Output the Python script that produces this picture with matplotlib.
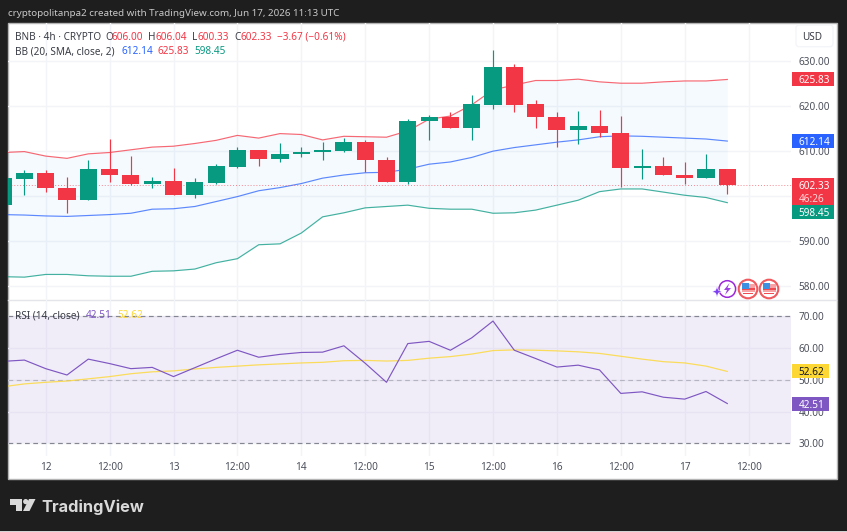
import matplotlib
matplotlib.use("Agg")
import matplotlib.pyplot as plt
from matplotlib.patches import Rectangle, Circle, Polygon, FancyBboxPatch

# 4h candles; the session index is counted from the first candle of the 12th
candle_idx = list(range(-2, 33))
opens = [597.9, 603.8, 605.1, 601.6, 599.1, 606.0, 604.6, 602.7, 603.3, 600.2,
         602.8, 606.4, 610.1, 608.2, 609.3, 609.7, 610.0, 612.0, 607.9, 603.0,
         616.5, 617.5, 615.1, 620.2, 628.6, 620.3, 617.5, 614.7, 615.5, 614.0,
         606.1, 606.6, 604.5, 604.0, 606.0]
highs = [604.4, 605.7, 605.7, 604.2, 607.9, 612.7, 608.8, 604.1, 606.1, 603.9,
         607.0, 610.9, 610.1, 611.8, 610.9, 611.9, 612.9, 612.4, 608.5, 617.0,
         618.0, 618.5, 622.3, 632.3, 629.2, 621.3, 618.7, 618.9, 619.0, 617.7,
         610.3, 608.6, 607.6, 609.3, 606.04]
lows = [597.6, 600.2, 600.9, 596.1, 599.1, 603.0, 602.3, 601.6, 600.2, 599.4,
        602.6, 606.1, 606.6, 607.6, 608.7, 607.9, 609.8, 605.2, 603.0, 602.6,
        612.4, 615.1, 612.4, 619.2, 618.6, 615.0, 610.9, 611.6, 613.1, 602.0,
        603.8, 604.5, 602.7, 604.0, 600.33]
closes = [603.9, 605.1, 601.6, 599.1, 606.0, 604.6, 602.7, 603.3, 600.2, 603.0,
          606.5, 610.1, 608.2, 609.3, 609.7, 610.1, 612.0, 607.9, 603.0, 616.6,
          617.5, 615.1, 620.3, 628.6, 620.2, 617.4, 614.7, 615.5, 613.9, 606.1,
          606.6, 604.5, 604.0, 606.0, 602.33]

bb_upper = [609.6, 609.8, 608.8, 608.3, 609.3, 609.6, 610.2, 610.8, 611.0, 611.6,
            612.3, 613.4, 612.8, 613.8, 613.6, 612.4, 613.2, 613.1, 613.0, 614.4,
            617.0, 617.7, 620.2, 623.5, 624.6, 625.6, 625.6, 625.9, 625.3, 625.0,
            625.0, 625.3, 625.5, 625.5, 625.83]
bb_basis = [595.8, 595.7, 595.5, 595.4, 595.6, 595.8, 596.1, 597.0, 597.1, 597.6,
            598.7, 599.8, 601.1, 601.8, 602.7, 603.9, 604.6, 605.1, 605.2, 605.9,
            607.0, 607.5, 608.5, 609.9, 610.7, 611.3, 611.9, 612.4, 613.1, 613.3,
            613.2, 613.0, 612.8, 612.6, 612.14]
bb_lower = [582.0, 581.9, 582.5, 582.5, 582.2, 582.1, 582.1, 583.2, 583.3, 583.7,
            585.1, 586.0, 589.1, 589.3, 591.7, 595.3, 596.2, 597.3, 597.6, 597.9,
            597.2, 597.0, 597.0, 596.1, 596.2, 596.8, 597.9, 599.0, 600.9, 601.5,
            601.5, 600.8, 600.1, 599.6, 598.45]

rsi = [55.8, 56.2, 53.5, 51.5, 56.5, 55.1, 53.5, 53.9, 51.0, 53.8,
       56.6, 59.3, 57.1, 58.0, 58.6, 58.7, 60.7, 55.2, 49.2, 61.4,
       62.1, 59.3, 63.2, 68.5, 59.3, 56.7, 54.0, 54.6, 53.1, 45.7,
       46.2, 44.5, 43.9, 46.3, 42.51]
rsi_ma = [47.8, 48.7, 49.2, 49.6, 50.3, 51.0, 51.9, 52.5, 52.8, 53.4,
          53.9, 54.3, 54.7, 55.0, 55.3, 55.5, 56.0, 56.1, 55.9, 56.1,
          56.8, 57.3, 58.1, 59.2, 59.4, 59.3, 59.1, 58.8, 58.3, 57.4,
          56.5, 55.7, 55.3, 54.3, 52.62]

time_ticks = [0, 3, 6, 9, 12, 15, 18, 21, 24, 27, 30, 33]
time_labels = ["12", "12:00", "13", "12:00", "14", "12:00", "15", "12:00",
               "16", "12:00", "17", "12:00"]
price_ticks = [580, 590, 600, 610, 620, 630]
price_tick_labels = ["580.00", "590.00", "", "610.00", "620.00", "630.00"]
rsi_ticks = [30, 40, 50, 60, 70]
rsi_tick_labels = ["30.00", "40.00", "50.00", "60.00", "70.00"]

last_price = 602.33
countdown = "46:26"

W, H = 847, 532
GREEN, RED, BLUE = "#089981", "#f23645", "#2962ff"
PURPLE, YELLOW = "#7e57c2", "#fdd835"
DARK, AXIS_TEXT, LEGEND_TEXT = "#1e1e1e", "#4c505b", "#3a3d46"
GRID = "#f3f4f8"
FONT = "Noto Sans"

plt.rcParams["font.family"] = [FONT, "DejaVu Sans"]
fig = plt.figure(figsize=(W / 100, H / 100), dpi=100, facecolor=DARK)


def pane(x0, y0, x1, y1, z):
    """Axes placed by pixel edges measured from the top-left corner."""
    ax = fig.add_axes([x0 / W, 1 - y1 / H, (x1 - x0) / W, (y1 - y0) / H], zorder=z)
    return ax


# Backdrop: dark frame with the white chart card
back = pane(0, 0, W, H, 0)
back.set_xlim(0, W)
back.set_ylim(H, 0)
back.axis("off")
back.add_patch(Rectangle((8, 22.7), 828.7, 456.6, fc="white", ec="#b4b4b4", lw=1))
back.add_patch(Rectangle((0, 531), W, 1, fc="#d4d4d4", ec="none"))
back.plot([8, 836], [300, 300], color="#e3e5ea", lw=1)

XLIM = (-1.77, 34.99)

# Price pane
ax = pane(8, 23, 791, 300, 1)
ax.patch.set_alpha(0)
ax.set_xlim(*XLIM)
ax.set_ylim(576.82, 638.38)
ax.fill_between(candle_idx, bb_lower, bb_upper, color="#2196f3", alpha=0.045, lw=0, zorder=1)
ax.plot(candle_idx, bb_upper, color=RED, lw=0.85, alpha=0.75, zorder=2)
ax.plot(candle_idx, bb_basis, color=BLUE, lw=0.85, alpha=0.75, zorder=2)
ax.plot(candle_idx, bb_lower, color=GREEN, lw=0.85, alpha=0.75, zorder=2)
ax.axhline(last_price, color=RED, lw=0.7, ls=(0, (1, 2)), alpha=0.6, zorder=2)
for i, o, h, l, c in zip(candle_idx, opens, highs, lows, closes):
    col = GREEN if c >= o else RED
    ax.vlines(i, l, h, color=col, lw=0.85, zorder=3)
    ax.bar(i, abs(c - o), bottom=min(o, c), width=0.8, color=col, lw=0, zorder=4)
ax.set_xticks(time_ticks)
ax.tick_params(axis="x", length=0, labelbottom=False)
ax.set_yticks(price_ticks, price_tick_labels)
ax.yaxis.tick_right()
ax.tick_params(axis="y", length=0, pad=5.5, labelsize=7.2, labelcolor=AXIS_TEXT)
ax.grid(True, color=GRID, lw=1)
ax.set_axisbelow(True)
for s in ax.spines.values():
    s.set_visible(False)

# RSI pane
ar = pane(8, 300, 791, 456, 1)
ar.patch.set_alpha(0)
ar.set_xlim(*XLIM)
ar.set_ylim(25.98, 75.13)
ar.axhspan(30, 70, color=PURPLE, alpha=0.1, lw=0, zorder=1)
for level, a in ((70, 0.9), (50, 0.45), (30, 0.9)):
    ar.axhline(level, color="#787b86", lw=0.85, ls=(0, (4, 3)), alpha=a, zorder=2)
ar.plot(candle_idx, rsi_ma, color=YELLOW, lw=0.9, alpha=0.8, zorder=3)
ar.plot(candle_idx, rsi, color=PURPLE, lw=0.85, zorder=4)
ar.set_xticks(time_ticks, time_labels)
ar.set_yticks(rsi_ticks, rsi_tick_labels)
ar.yaxis.tick_right()
ar.tick_params(axis="y", length=0, pad=5.5, labelsize=7.2, labelcolor=AXIS_TEXT)
ar.tick_params(axis="x", length=0, pad=4.6, labelsize=7.2, labelcolor=AXIS_TEXT)
ar.get_xticklabels()[6].set_fontweight("bold")
ar.grid(True, color=GRID, lw=1)
ar.set_axisbelow(True)
for s in ar.spines.values():
    s.set_visible(False)

# Top layer for badges, legends, icons and the logo, addressed in pixels
top = pane(0, 0, W, H, 5)
top.set_xlim(0, W)
top.set_ylim(H, 0)
top.axis("off")
top.patch.set_alpha(0)


def py(axes, value):
    return H - axes.transData.transform((0, value))[1]


def badge(axes, value, text, fc, tc="white", right=834.3, shift=0.0, tx=798.5):
    y = py(axes, value) + shift
    top.add_patch(Rectangle((792.3, y - 7), right - 792.3, 14, fc=fc, ec="none"))
    top.text(tx, y, text, color=tc, fontsize=7.2, va="center_baseline", ha="left")


badge(ax, bb_upper[-1], f"{bb_upper[-1]:.2f}", RED)
badge(ax, bb_basis[-1], f"{bb_basis[-1]:.2f}", BLUE)
y_last = py(ax, last_price)
top.add_patch(Rectangle((792.3, y_last - 7), 42, 26.8, fc=RED, ec="none"))
top.text(798.5, y_last, f"{last_price:.2f}", color="white", fontsize=7.2, va="center_baseline")
top.text(798.5, y_last + 12.6, countdown, color="#ffd5d8", fontsize=7.2, va="center_baseline")
badge(ax, bb_lower[-1], f"{bb_lower[-1]:.2f}", GREEN, shift=9.1)
badge(ar, rsi_ma[-1], f"{rsi_ma[-1]:.2f}", "#fdd835", tc="#131722", right=828.7)
badge(ar, rsi[-1], f"{rsi[-1]:.2f}", PURPLE, right=828.7)

# Currency button
top.add_patch(FancyBboxPatch((796, 25), 37, 21.7, boxstyle="round,pad=0,rounding_size=3",
                             fc="white", ec="#f4f5f8", lw=1))
top.text(811.7, 35.7, "USD", color=LEGEND_TEXT, fontsize=7.2, ha="center", va="center_baseline")

# Header line
top.text(8, 12.5, "cryptopolitanpa2 created with TradingView.com, Jun 17, 2026 11:13 UTC",
         color="#c8c8c8", fontsize=7.08, va="center_baseline")

# Legends


def legend_row(y, parts):
    for x, text, col in parts:
        top.text(x, y, text, color=col, fontsize=7.2, va="center_baseline")


o_v, h_v, l_v, c_v = opens[-1], highs[-1], lows[-1], closes[-1]
legend_row(35.5, [(15, "BNB · 4h · CRYPTO", LEGEND_TEXT),
                  (105, "O", LEGEND_TEXT), (111.5, f"{o_v:.2f}", RED),
                  (148, "H", LEGEND_TEXT), (155.5, f"{h_v:.2f}", RED),
                  (192, "L", LEGEND_TEXT), (197, f"{l_v:.2f}", RED),
                  (234, "C", LEGEND_TEXT), (240.5, f"{c_v:.2f}", RED),
                  (277, "−3.67 (−0.61%)", RED)])
legend_row(50, [(15, "BB (20, SMA, close, 2)", LEGEND_TEXT),
                (121, f"{bb_basis[-1]:.2f}", BLUE),
                (157.6, f"{bb_upper[-1]:.2f}", RED),
                (194.6, f"{bb_lower[-1]:.2f}", GREEN)])
legend_row(314, [(15, "RSI (14, close)", LEGEND_TEXT),
                 (86, f"{rsi[-1]:.2f}", PURPLE),
                 (117, f"{rsi_ma[-1]:.2f}", YELLOW)])

# Event markers on the time scale
top.add_patch(Circle((727.3, 289), 8.3, fc="white", ec="#9c27d8", lw=1.1))
top.add_patch(Polygon([(729.5, 283), (724, 290), (727, 290), (725, 295),
                       (731, 288), (727.5, 288)], fc="#a040e0", ec="none"))
top.add_patch(Polygon([(717, 286.5), (718.4, 290.3), (722, 291.7), (718.4, 293.1),
                       (717, 297), (715.6, 293.1), (712, 291.7), (715.6, 290.3)],
                      fc="#7e3ff2", ec="white", lw=0.4))
for cx in (748, 769):
    top.add_patch(Circle((cx, 289), 9.3, fc="white", ec="#f05a5f", lw=1.5))
    stripes = [Rectangle((cx - 6.5, 283.5), 13, 8, fc="#f7a3a6", ec="none"),
               Rectangle((cx - 6.5, 288), 13, 1.6, fc="#ef4b50", ec="none"),
               Rectangle((cx - 5, 292.5), 10, 1.6, fc="#ef4b50", ec="none"),
               Rectangle((cx - 6.5, 282.5), 7.5, 6, fc="#3d8fe0", ec="none")]
    for st in stripes:
        top.add_patch(st)

# Wordmark in the footer
LOGO = "#d9d9d9"
top.add_patch(Polygon([(9.5, 499), (22, 499), (22, 511), (16, 511), (16, 504.5), (9.5, 504.5)],
                      fc=LOGO, ec="none"))
top.add_patch(Circle((25.7, 501.6), 2.6, fc=LOGO, ec="none"))
top.add_patch(Polygon([(29, 499), (35.5, 499), (29.5, 511), (23, 511)], fc=LOGO, ec="none"))
top.text(41.5, 505.5, "TradingView", color=LOGO, fontsize=11.8, fontfamily="Inter",
         fontweight="bold", va="center_baseline")

fig.savefig("out.png", dpi=100, facecolor=DARK)
